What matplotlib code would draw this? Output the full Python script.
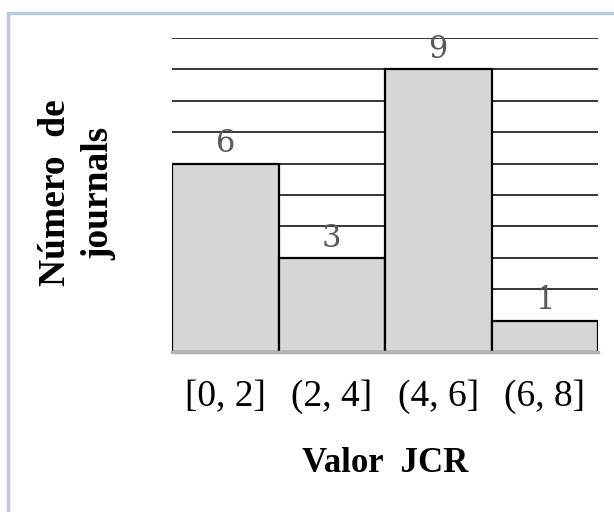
import numpy as np
import matplotlib.pyplot as plt
from matplotlib.patches import Rectangle

# JCR ranges and number of journals in each
rangos = ['[0, 2]', '(2, 4]', '(4, 6]', '(6, 8]']
n_journals = [6, 3, 9, 1]

serif = ['Liberation Serif', 'DejaVu Serif']

fig = plt.figure(figsize=(6.14, 5.12), dpi=100)
fig.patch.set_facecolor('white')

# light blue frame around the figure
fig.patches.append(Rectangle((8/614, -0.1), 1.2, (1 - 13/512) + 0.1,
                             transform=fig.transFigure, fill=False,
                             edgecolor='#b7cbe9', linewidth=2.5, zorder=0))

ax = fig.add_axes([172/614, 1 - 352/512, 426/614, 314/512])

x = np.arange(len(rangos))
bars = ax.bar(x, n_journals, width=1.0, color='#d6d6d6',
              edgecolor='black', linewidth=1.6, zorder=3)

for xi, v in zip(x, n_journals):
    ax.annotate(str(v), (xi, v), xytext=(0, 3), textcoords='offset points',
                ha='center', va='bottom', fontsize=22, color='#595959',
                family=['DejaVu Serif'])

ax.set_xlim(-0.5, 3.5)
ax.set_ylim(0, 10)
ax.set_yticks(range(1, 11))
ax.yaxis.grid(True, color='black', linewidth=1.1, zorder=0)
ax.set_axisbelow(True)
ax.tick_params(axis='y', length=0, labelleft=False)

ax.set_xticks(x)
ax.set_xticklabels(rangos, fontsize=27, family=serif)
ax.tick_params(axis='x', length=0, pad=20)

for s in ['top', 'right', 'left']:
    ax.spines[s].set_visible(False)
ax.spines['bottom'].set_color('#b3b3b3')
ax.spines['bottom'].set_linewidth(2.5)
ax.spines['bottom'].set_zorder(4)

fig.text(385/614, 1 - 463/512, 'Valor  JCR', ha='center', va='center',
         fontsize=25, fontweight='bold', family=serif)
fig.text(77/614, 1 - 193/512, 'Número  de\njournals', ha='center', va='center',
         rotation=90, fontsize=27, fontweight='bold', family=serif,
         linespacing=1.3, multialignment='center')

fig.savefig('out.png', dpi=100)
